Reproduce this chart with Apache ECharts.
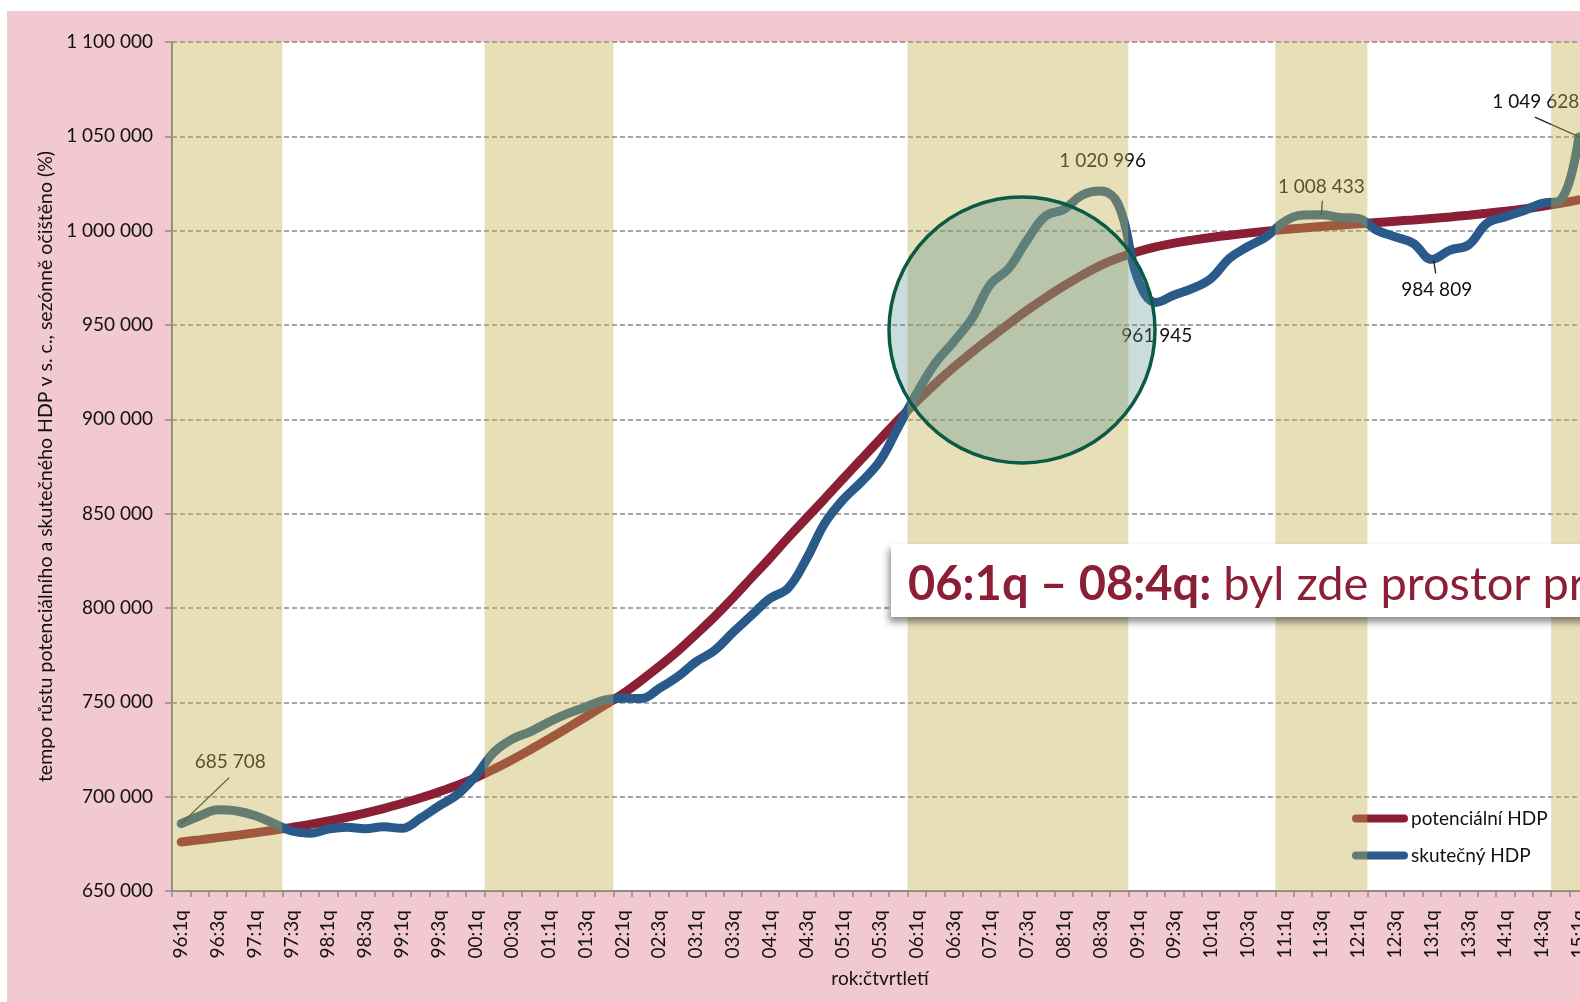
<!DOCTYPE html>
<html>
<head>
<meta charset="utf-8">
<title>potenciální a skutečný HDP</title>
<script src="https://cdn.jsdelivr.net/npm/echarts@6/dist/echarts.min.js"></script>
<style>
html, body { margin: 0; padding: 0; background: #fff; overflow: hidden; width: 1580px; height: 1002px; }
#chart { position: absolute; left: 7px; top: 11px; width: 1600px; height: 991px; }
</style>
</head>
<body>
<div id="chart"></div>
<script>
// ctvrtleti 96:1q .. 15:1q
var kvartaly = [
  '96:1q','96:2q','96:3q','96:4q','97:1q','97:2q','97:3q','97:4q',
  '98:1q','98:2q','98:3q','98:4q','99:1q','99:2q','99:3q','99:4q',
  '00:1q','00:2q','00:3q','00:4q','01:1q','01:2q','01:3q','01:4q',
  '02:1q','02:2q','02:3q','02:4q','03:1q','03:2q','03:3q','03:4q',
  '04:1q','04:2q','04:3q','04:4q','05:1q','05:2q','05:3q','05:4q',
  '06:1q','06:2q','06:3q','06:4q','07:1q','07:2q','07:3q','07:4q',
  '08:1q','08:2q','08:3q','08:4q','09:1q','09:2q','09:3q','09:4q',
  '10:1q','10:2q','10:3q','10:4q','11:1q','11:2q','11:3q','11:4q',
  '12:1q','12:2q','12:3q','12:4q','13:1q','13:2q','13:3q','13:4q',
  '14:1q','14:2q','14:3q','14:4q','15:1q'
];

var potencialniHDP = [
  676000, 677100, 678300, 679500, 680800, 682200, 683700, 685300,
  687100, 689100, 691300, 693700, 696400, 699300, 702500, 706000,
  710000, 714600, 719600, 725000, 730600, 736400, 742300, 748300,
  754400, 761500, 769100, 777100, 786100, 795400, 805400, 815900,
  826300, 837200, 847600, 858000, 868600, 879000, 889400, 899700,
  909500, 918800, 927500, 935600, 943200, 950600, 957800, 964500,
  970700, 976400, 981600, 985600, 988800, 991400, 993400, 995000,
  996400, 997600, 998700, 999700, 1000600, 1001400, 1002200, 1002900,
  1003600, 1004300, 1005000, 1005700, 1006500, 1007300, 1008200, 1009200,
  1010300, 1011500, 1012900, 1014500, 1016300
];

var skutecnyHDP = [
  685708, 689800, 693000, 692400, 690000, 686000, 681800, 680600,
  682800, 683800, 683000, 684000, 683200, 688500, 695000, 701000,
  710800, 723500, 730500, 734500, 739600, 744000, 747500, 751200,
  752200, 752000, 757400, 763600, 771500, 777500, 787000, 796000,
  805000, 810500, 826000, 845000, 857500, 867000, 878000, 896000,
  913800, 929700, 941100, 953500, 971500, 980000, 995000, 1007800,
  1011300, 1018900, 1020996, 1013000, 975000, 961945, 965900, 969400,
  974700, 985300, 991500, 996800, 1004800, 1008300, 1008433, 1007000,
  1006500, 1000300, 996800, 993300, 984809, 989700, 992400, 1003900,
  1007400, 1010600, 1014500, 1016200, 1049628
];

// popisky hodnot skutecneho HDP
var popisky = ['96:1q', '08:3q', '09:2q', '11:3q', '13:1q', '15:1q'];

// zvyraznena obdobi
var pasma = [
  ['96:1q', '97:2q'],
  ['00:2q', '01:4q'],
  ['06:1q', '08:4q'],
  ['11:1q', '12:1q'],
  ['14:4q', '15:1q']
];

var yMin = 650000, yMax = 1100000, yKrok = 50000;

// posun popisku od bodu a odkazove cary (px)
var labelOffsets = [[49, -62], [2, -30], [1, 33], [0, -28], [5, 31], [-43, -35]];
var leaderLines = [[0, 0, 48, -46], null, null, [0, 0, 1, -14], [2, 1, 4, 14], [1, 0, -44, -20]];

function fmt(v) {
  return String(v).replace(/\B(?=(\d{3})+(?!\d))/g, ' ');
}

var chart = echarts.init(document.getElementById('chart'));

var popiskyData = popisky.map(function (k) {
  var idx = kvartaly.indexOf(k);
  return [idx, skutecnyHDP[idx]];
});

var pasmaData = pasma.map(function (p) {
  return [kvartaly.indexOf(p[0]), kvartaly.indexOf(p[1]), yMin, yMax];
});

var osaBarva = '#8c8c84';
var pismo = 'Lato';
var ikona = 'path://M4,0 H52 A4,4 0 0 1 52,8 H4 A4,4 0 0 1 4,0 Z';

var option = {
  animation: false,
  backgroundColor: '#F2C9D1',
  textStyle: { fontFamily: pismo },
  grid: {
    left: 165, top: 31, width: 1416, height: 849,
    show: true, backgroundColor: '#fff', borderWidth: 0
  },
  legend: {
    data: [
      { name: 'potenciální HDP', icon: ikona },
      { name: 'skutečný HDP', icon: ikona }
    ],
    orient: 'vertical',
    left: 1340, top: 793,
    itemWidth: 56, itemHeight: 8, itemGap: 18,
    textStyle: { fontSize: 19, color: '#111', padding: [0, 0, 0, -2] }
  },
  xAxis: {
    type: 'category',
    data: kvartaly,
    boundaryGap: true,
    name: 'rok:čtvrtletí',
    nameLocation: 'middle',
    nameGap: 78,
    nameTextStyle: { fontSize: 19, color: '#111' },
    axisLine: { lineStyle: { color: osaBarva, width: 2 } },
    axisTick: { show: true, interval: 0, length: 6, lineStyle: { color: osaBarva, width: 1.5 } },
    axisLabel: { interval: 1, rotate: 90, margin: 19, fontSize: 19, color: '#111' },
    splitLine: { show: false }
  },
  yAxis: {
    type: 'value',
    min: yMin, max: yMax, interval: yKrok,
    name: 'tempo růstu potenciálního a skutečného HDP v s. c., sezónně očištěno (%)',
    nameLocation: 'middle',
    nameGap: 111,
    nameTextStyle: { fontSize: 19.5, color: '#111' },
    axisLine: { show: true, lineStyle: { color: osaBarva, width: 2 } },
    axisTick: { show: true, length: 7, lineStyle: { color: osaBarva, width: 1.5 } },
    axisLabel: { margin: 19, fontSize: 19, color: '#111', formatter: fmt },
    splitLine: { lineStyle: { color: '#8a8a8a', width: 1.5, type: [5, 3] } }
  },
  series: [
    {
      name: 'potenciální HDP',
      type: 'line',
      data: potencialniHDP,
      smooth: 0.4,
      symbol: 'none',
      lineStyle: { color: '#8B1F36', width: 9, cap: 'round' },
      itemStyle: { color: '#8B1F36' },
      z: 2
    },
    {
      name: 'skutečný HDP',
      type: 'line',
      data: skutecnyHDP,
      smooth: 0.4,
      symbol: 'none',
      lineStyle: { color: '#295A8A', width: 9, cap: 'round', join: 'round' },
      itemStyle: { color: '#295A8A' },
      z: 3
    },
    {
      // popisky s odkazovou carou
      name: 'popisky',
      type: 'custom',
      data: popiskyData,
      silent: true,
      encode: { x: 0, y: 1 },
      renderItem: function (params, api) {
        var p = api.coord([api.value(0), api.value(1)]);
        var o = labelOffsets[params.dataIndex];
        var l = leaderLines[params.dataIndex];
        var children = [{
          type: 'text',
          x: p[0] + o[0], y: p[1] + o[1],
          style: {
            text: fmt(api.value(1)), fontFamily: pismo, fontSize: 19,
            fill: '#111', align: 'center', verticalAlign: 'middle'
          }
        }];
        if (l) {
          children.push({
            type: 'line',
            shape: { x1: p[0] + l[0], y1: p[1] + l[1], x2: p[0] + l[2], y2: p[1] + l[3] },
            style: { stroke: '#222', lineWidth: 1.3 }
          });
        }
        return { type: 'group', children: children };
      },
      z: 4
    },
    {
      name: 'pasma',
      type: 'custom',
      data: pasmaData,
      silent: true,
      encode: { x: [0, 1], y: [2, 3] },
      renderItem: function (params, api) {
        var a = api.coord([api.value(0), api.value(3)]);
        var b = api.coord([api.value(1), api.value(2)]);
        var w = api.size([1, 0])[0];
        return {
          type: 'rect',
          shape: { x: a[0] - w / 2, y: a[1], width: b[0] - a[0] + w, height: b[1] - a[1] },
          style: { fill: 'rgba(192,175,78,0.4)' }
        };
      },
      z: 10
    }
  ],
  graphic: [
    {
      type: 'circle', z: 20, silent: true,
      shape: { cx: 1015, cy: 319, r: 133 },
      style: { fill: 'rgba(80,140,140,0.3)', stroke: '#0B5A44', lineWidth: 3.5 }
    },
    {
      type: 'rect', z: 30, silent: true,
      shape: { x: 884, y: 533, width: 800, height: 73 },
      style: { fill: '#fff', shadowBlur: 7, shadowOffsetX: -2, shadowOffsetY: 5, shadowColor: 'rgba(0,0,0,0.45)' }
    },
    {
      type: 'text', z: 31, silent: true,
      x: 901, y: 574,
      style: {
        text: '{b|06:1q – 08:4q:} byl zde prostor pro',
        fontFamily: pismo, fontSize: 47, fill: '#8B1F36', verticalAlign: 'middle',
        rich: { b: { fontFamily: pismo, fontWeight: 'bold', fontSize: 47, fill: '#8B1F36' } }
      }
    }
  ]
};

chart.setOption(option);
</script>
</body>
</html>
